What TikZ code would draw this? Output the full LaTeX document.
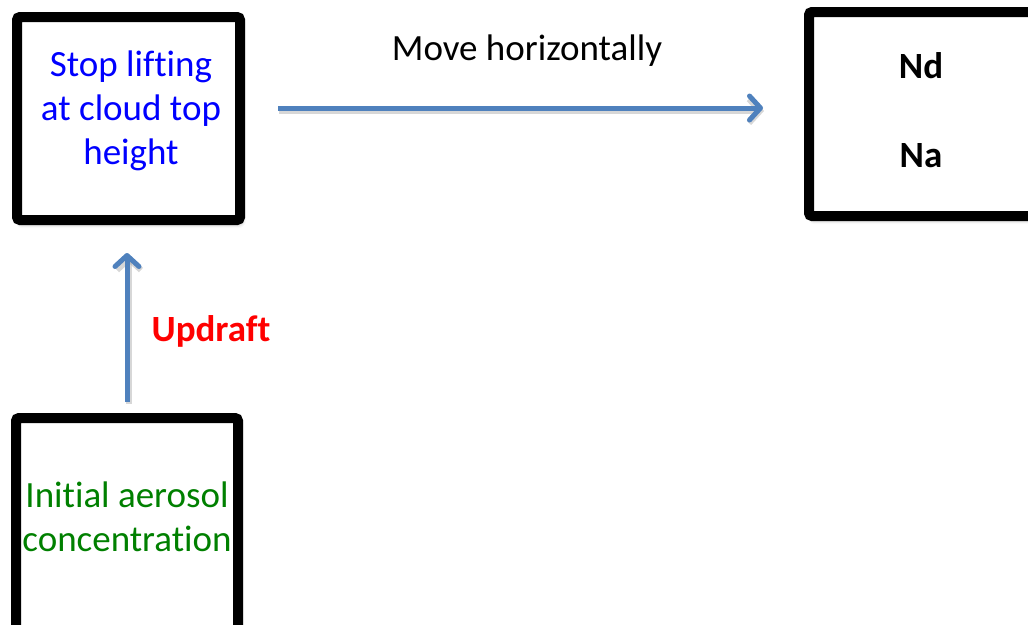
\documentclass[tikz,border=0pt]{standalone}
\usepackage{fontspec}
\setmainfont{Carlito}[Ligatures={NoCommon,NoContextual,NoRare}]
\usetikzlibrary{arrows.meta,shadows.blur}
\definecolor{flowblue}{HTML}{4F81BD}
\definecolor{txtgreen}{HTML}{008000}
\tikzset{
  frame/.style={draw=black, fill=white, line width=10pt, rounded corners=3pt,
    inner sep=0pt, blur shadow={shadow xshift=2pt, shadow yshift=-4pt,
    shadow blur radius=4pt, shadow opacity=35}},
  label/.style={font=\fontsize{37}{44}\selectfont, align=center, inner sep=0pt},
  flow/.style={draw=flowblue, line width=5pt,
    -{Straight Barb[length=11pt, width=24pt, line width=5pt, line cap=round, line join=round]}},
  flowshadow/.style={draw=black!45, opacity=0.35, line width=6pt,
    -{Straight Barb[length=11pt, width=24pt, line width=6pt]}}
}
\begin{document}
\begin{tikzpicture}[x=1pt, y=-1pt]
  \useasboundingbox (0,0) rectangle (1028,624);
  \clip (0,0) rectangle (1028,624);

  % boxes
  \node[frame, minimum width=223pt, minimum height=203pt] (top) at (128.5,118.5) {};
  \node[frame, minimum width=231pt, minimum height=204pt] (result) at (924.5,114) {};
  \node[frame, minimum width=222pt, minimum height=222pt] (start) at (127,529) {};

  % box texts (kerns keep letter pairs unligated)
  \node[label, text=blue] (toptxt) at (131,111) {Stop lif\kern0ptt\kern0pting\\at cloud top\\height};
  \node[label] (nd) at (921,66) {\bfseries Nd};
  \node[label] (na) at (921,156) {\bfseries Na};
  \node[label, text=txtgreen] (starttxt) at (127,517) {Init\kern0ptial aerosol\\concentrat\kern0ption};

  % connectors
  \coordinate (hs) at ([xshift=33pt, yshift=10.5pt]top.east);
  \coordinate (he) at ([xshift=-41pt]hs -| result.west);
  \coordinate (vs) at ([yshift=11pt]start.north);
  \coordinate (ve) at ([yshift=-28pt]vs |- top.south);
  \draw[flowshadow] ([xshift=1pt, yshift=-3pt]hs) -- ([xshift=1pt, yshift=-3pt]he);
  \draw[flowshadow] ([xshift=2pt, yshift=-2pt]vs) -- ([xshift=2pt, yshift=-2pt]ve);
  \draw[flow] (hs) -- (he);
  \draw[flow] (vs) -- (ve);

  % connector labels
  \node[label] (movetxt) at (527,51) {Move horizontally};
  \node[label, text=red] (updraft) at (211,331) {\bfseries Updraf\kern0ptt};
\end{tikzpicture}
\end{document}
